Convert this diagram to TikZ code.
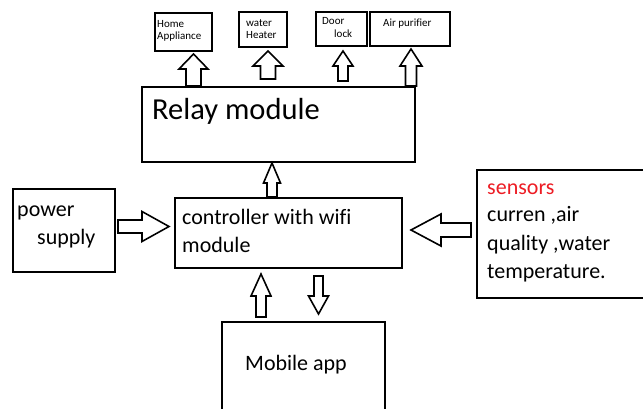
\documentclass[tikz,border=0pt]{standalone}
\usepackage{fontspec}
\setmainfont{Carlito}[Ligatures=NoCommon]
\usetikzlibrary{calc}
\definecolor{paintred}{RGB}{237,28,36}
\tikzset{
  bx/.style={draw=black, line width=2pt, fill=white, inner sep=0pt},
  blk/.style={draw=black, line width=1.6pt, fill=white, line join=miter},
  lbl/.style={inner sep=0pt, anchor=base west, text=black},
  big/.style={lbl, font=\fontsize{22}{26}\selectfont},
  huge/.style={lbl, font=\fontsize{30.5}{35}\selectfont},
  tiny/.style={lbl, font=\fontsize{11}{13}\selectfont},
}
\newcommand\mkbox[5]{\node[bx, minimum width=#4pt, minimum height=#5pt] (#1) at (#2,#3) {};}
\newcommand\blockarrow[5]{%
  \coordinate (ba-h) at ($(#2)!#5!(#1)$);
  \draw[blk] ($(#1)!#3!90:(#2)$) -- ($(ba-h)!#3!90:(#2)$) -- ($(ba-h)!#4!90:(#2)$) -- (#2)
    -- ($(ba-h)!#4!-90:(#2)$) -- ($(ba-h)!#3!-90:(#2)$) -- ($(#1)!#3!-90:(#2)$) -- cycle;}
\begin{document}
\begin{tikzpicture}[x=1pt, y=-1pt]
\useasboundingbox[fill=white] (0,0) rectangle (643,409);
% boxes
\mkbox{home}{183.5}{32}{57}{38}
\mkbox{water}{263}{29.5}{48}{35}
\mkbox{door}{341.5}{29}{51}{34}
\mkbox{air}{410}{29}{80}{34}
\mkbox{relay}{278.5}{124.5}{273}{75}
\mkbox{ctrl}{288.5}{233}{227}{70}
\mkbox{power}{64}{230.5}{102}{83}
\mkbox{sensors}{562.5}{234}{171}{128}
\mkbox{mobile}{303.5}{368.5}{163}{93}
% labels
\node[tiny] (t1) at (157,28) {Home};
\node[tiny] (t2) at (157,40) {Appliance};
\node[tiny] (t3) at (246,27) {water};
\node[tiny] (t4) at (246,39) {Heater};
\node[tiny] (t5) at (322,25) {Door};
\node[tiny] (t6) at (334,38) {lock};
\node[tiny] (t7) at (383,27) {Air purifier};
\node[huge] (t8) at (152,120) {Relay module};
\node[big] (t9) at (182,225) {controller with wifi};
\node[big] (t10) at (182,252) {module};
\node[big] (t11) at (17,217) {power};
\node[big] (t12) at (37,244) {supply};
\node[big, text=paintred] (t13) at (487,194) {sensors};
\node[big] (t14) at (487,222) {curren ,air};
\node[big] (t15) at (487,250) {quality ,water};
\node[big] (t16) at (487,278) {temperature.};
\node[big] (t17) at (245,370) {Mobile app};
% arrow end points
\coordinate (a1s) at (relay.north -| 193.5,0);
\coordinate (a1t) at ($(home.south -| 193.5,0)+(0,2)$);
\coordinate (a2s) at ($(relay.north -| 268,0)+(0,-7)$);
\coordinate (a2t) at ($(water.south -| 268,0)+(0,3)$);
\coordinate (a3s) at ($(relay.north -| 343,0)+(0,-5)$);
\coordinate (a3t) at ($(door.south -| 343,0)+(0,4)$);
\coordinate (a4s) at (relay.north -| 411,0);
\coordinate (a4t) at ($(air.south -| 411,0)+(0,2)$);
\coordinate (a5s) at (ctrl.north -| 272,0);
\coordinate (a5t) at (relay.south -| 272,0);
\coordinate (a6s) at ($(power.east |- 0,226.5)+(2,0)$);
\coordinate (a6t) at ($(ctrl.west |- 0,226.5)+(-5,0)$);
\coordinate (a7s) at ($(sensors.west |- 0,230)+(-5,0)$);
\coordinate (a7t) at ($(ctrl.east |- 0,230)+(8,0)$);
\coordinate (a8s) at ($(mobile.north -| 261,0)+(0,-4)$);
\coordinate (a8t) at ($(ctrl.south -| 261,0)+(0,5)$);
\coordinate (a9s) at ($(ctrl.south -| 318.5,0)+(0,7)$);
\coordinate (a9t) at ($(mobile.north -| 318.5,0)+(0,-7)$);
% block arrows
\blockarrow{a1s}{a1t}{7.5pt}{14.5pt}{15pt}
\blockarrow{a2s}{a2t}{7.5pt}{15pt}{15pt}
\blockarrow{a3s}{a3t}{5pt}{10pt}{15pt}
\blockarrow{a4s}{a4t}{5.5pt}{11pt}{17pt}
\blockarrow{a5s}{a5t}{5pt}{8.5pt}{20pt}
\blockarrow{a6s}{a6t}{6.5pt}{15pt}{27pt}
\blockarrow{a7s}{a7t}{7pt}{16pt}{30pt}
\blockarrow{a8s}{a8t}{5pt}{10pt}{22pt}
\blockarrow{a9s}{a9t}{4.5pt}{10pt}{18pt}
\end{tikzpicture}
\end{document}
